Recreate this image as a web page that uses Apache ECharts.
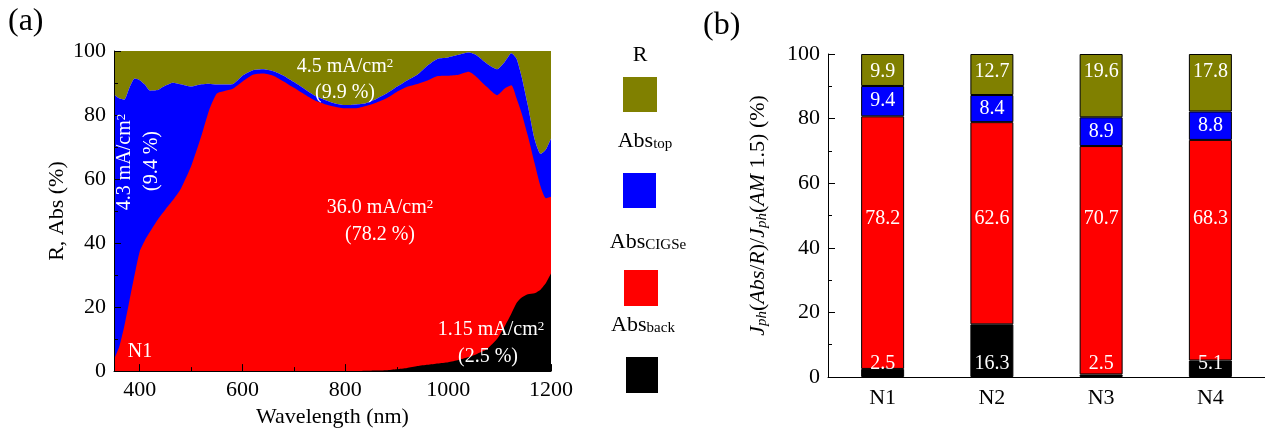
<!DOCTYPE html>
<html>
<head>
<meta charset="utf-8">
<script src="https://cdn.jsdelivr.net/npm/echarts@6/dist/echarts.min.js"></script>
<style>
  html, body { margin: 0; padding: 0; background: #fff; }
  #main { width: 1265px; height: 433px; }
</style>
</head>
<body>
<div id="main"></div>
<script>
// (a) spectra: upper edge of each layer (%)
var wavelength = [350, 360, 370, 380, 390, 400, 410, 420, 435, 450, 465, 480, 500, 520, 535, 550, 565, 580,
  600, 620, 640, 660, 680, 700, 720, 740, 760, 780, 800, 820, 840, 860, 880, 900, 920, 940, 960, 980,
  1000, 1020, 1040, 1055, 1075, 1095, 1110, 1123, 1133, 1143, 1155, 1168, 1180, 1190, 1200];
var backEdge = [0, 0, 0, 0, 0, 0, 0, 0, 0, 0, 0, 0, 0, 0, 0, 0, 0, 0,
  0, 0, 0, 0, 0, 0, 0, 0, 0, 0, 0, 0, 0.1, 0.2, 0.3, 0.6, 1.0, 1.6, 2.0, 2.4,
  2.8, 3.5, 4.4, 5.3, 6.8, 10, 14, 18, 21.3, 23, 24, 24.3, 25.5, 27.5, 30.5];
var cigseEdge = [3.6, 7.5, 14, 22, 30, 37.4, 40.8, 43.5, 47.3, 50.5, 53.5, 57, 64, 73.5, 81.5, 86.7, 87.5, 88.1,
  90.5, 92.6, 93, 92.3, 90.5, 88.5, 86.5, 84.6, 83.4, 82.6, 82.1, 82.1, 82.8, 83.8, 85.2, 87.2, 88.8, 89.7, 90.8, 92.2,
  92.3, 92.6, 93.5, 91.9, 88.8, 86.2, 88.3, 89.3, 85.2, 80.5, 73.5, 65, 57.5, 54, 54.5];
var topEdge = [86.4, 85.2, 84.8, 88.5, 91.4, 90.9, 89.5, 87.6, 87.8, 89.2, 90.1, 89.6, 88.9, 89.6, 89.8, 89.5, 89.5, 89.6,
  92.3, 94, 94.3, 93.7, 92.3, 90.3, 88.2, 86.1, 84.7, 83.6, 83.1, 83.3, 83.7, 85, 86.7, 88.8, 90.8, 92.6, 95.5, 97.6,
  98, 98.8, 99.5, 98.7, 96.1, 94.3, 96.6, 99.3, 97.6, 91.9, 83, 72.5, 67.8, 69.2, 72.7];

// (b) shares of Jph (%)
var samples = ['N1', 'N2', 'N3', 'N4'];
var backShare = [2.5, 16.3, 0.8, 5.1];
var backText = ['2.5', '16.3', '2.5', '5.1'];
var cigseShare = [78.2, 62.6, 70.7, 68.3];
var topShare = [9.4, 8.4, 8.9, 8.8];
var reflShare = [9.9, 12.7, 19.6, 17.8];

var xTicksMajor = [400, 600, 800, 1000, 1200];
var xTicksMinor = [500, 700, 900, 1100];

var FONT = 'Liberation Serif';
var OLIVE = '#808000', BLUE = '#0000ff', RED = '#ff0000', BLACK = '#000000';

function pairs(edge) {
  return wavelength.map(function (w, k) { return [w, edge[k]]; });
}

// layers are drawn back to front, each filled from its upper edge down to 0;
// R fills from the total absorption up to 100
function areaSeries(name, color, edge, origin, z) {
  return {
    name: name, type: 'line', xAxisIndex: 0, yAxisIndex: 0,
    data: pairs(edge), showSymbol: false, smooth: 0.2,
    lineStyle: { width: 0 }, areaStyle: { color: color, opacity: 1, origin: origin }, itemStyle: { color: color },
    z: z
  };
}

// label placed at a fixed level of the y scale inside a stacked segment
function levelPos(level, bottom, top) {
  var p = (top - level) / (top - bottom) * 100;
  return ['50%', p + '%'];
}

var cum0 = backShare.slice();
var cum1 = cum0.map(function (v, i) { return v + cigseShare[i]; });
var cum2 = cum1.map(function (v, i) { return v + topShare[i]; });

var labelBase = { show: true, color: '#fff', fontFamily: FONT, fontSize: 20 };

function barSeries(name, color, values, itemFn) {
  return {
    name: name, type: 'bar', stack: 'share', xAxisIndex: 2, yAxisIndex: 1,
    barWidth: 43,
    itemStyle: { color: color, borderColor: '#000', borderWidth: 1 },
    data: values.map(itemFn)
  };
}

var supRich = { sup: { fontSize: 13, verticalAlign: 'top', fill: '#fff', fontFamily: FONT } };
var subRich = { s: { fontSize: 15, verticalAlign: 'bottom', fill: '#000', fontFamily: FONT } };

function note(x, y, text, rot) {
  return { type: 'text', x: x, y: y, rotation: rot || 0, z: 10,
    style: { text: text, align: 'center', verticalAlign: 'middle', fill: '#fff', font: '20px "Liberation Serif"', rich: supRich } };
}

var chart = echarts.init(document.getElementById('main'));
chart.setOption({
  animation: false,
  backgroundColor: '#fff',
  textStyle: { fontFamily: FONT },
  grid: [
    { left: 114, top: 51, width: 437, height: 322 },
    { left: 828, top: 54, width: 440, height: 323 }
  ],
  xAxis: [
    {
      type: 'value', gridIndex: 0, min: 350, max: 1200, position: 'bottom',
      name: 'Wavelength (nm)', nameLocation: 'middle', nameGap: 34,
      nameTextStyle: { fontFamily: FONT, fontSize: 22, color: '#000' },
      axisLine: { lineStyle: { color: '#000', width: 1 } },
      axisTick: { inside: true, length: 7, customValues: xTicksMajor, lineStyle: { color: '#000' } },
      axisLabel: { customValues: xTicksMajor, formatter: function (v) { return String(v); },
        fontFamily: FONT, fontSize: 22, color: '#000', margin: 8 },
      splitLine: { show: false }, z: 5
    },
    {
      type: 'value', gridIndex: 0, min: 350, max: 1200, position: 'bottom',
      axisLine: { show: false },
      axisTick: { inside: true, length: 4, customValues: xTicksMinor, lineStyle: { color: '#000' } },
      axisLabel: { show: false }, splitLine: { show: false }, z: 5
    },
    {
      type: 'category', gridIndex: 1, data: samples,
      axisLine: { lineStyle: { color: '#000', width: 1 } },
      axisTick: { show: false },
      axisLabel: { fontFamily: FONT, fontSize: 22, color: '#000', margin: 10 }
    }
  ],
  yAxis: [
    {
      type: 'value', gridIndex: 0, min: 0, max: 100, interval: 20,
      name: 'R, Abs (%)', nameLocation: 'middle', nameGap: 46,
      nameTextStyle: { fontFamily: FONT, fontSize: 22, color: '#000' },
      axisLine: { show: true, lineStyle: { color: '#000', width: 1 } },
      axisTick: { show: true, inside: true, length: 7, lineStyle: { color: '#000' } },
      minorTick: { show: true, splitNumber: 2, length: 4, lineStyle: { color: '#000' } },
      axisLabel: { fontFamily: FONT, fontSize: 22, color: '#000', margin: 8 },
      splitLine: { show: false }, z: 5
    },
    {
      type: 'value', gridIndex: 1, min: 0, max: 100, interval: 20,
      name: '{i|J}{s|ph}{n|(}{i|Abs}{n|/}{i|R}{n|)/}{i|J}{s|ph}{n|(}{i|AM}{n| 1.5) (%)}',
      nameLocation: 'middle', nameGap: 58,
      nameTextStyle: {
        fontFamily: FONT, fontSize: 22, color: '#000',
        rich: {
          i: { fontFamily: FONT, fontSize: 22, fontStyle: 'italic', color: '#000' },
          n: { fontFamily: FONT, fontSize: 22, color: '#000' },
          s: { fontFamily: FONT, fontSize: 15, fontStyle: 'italic', color: '#000', verticalAlign: 'bottom', padding: [9, 0, 0, 0] }
        }
      },
      axisLine: { show: true, lineStyle: { color: '#000', width: 1 } },
      axisTick: { show: true, inside: true, length: 7, lineStyle: { color: '#000' } },
      minorTick: { show: true, splitNumber: 2, length: 4, lineStyle: { color: '#000' } },
      axisLabel: { fontFamily: FONT, fontSize: 22, color: '#000', margin: 8 },
      splitLine: { show: false }
    }
  ],
  series: [
    areaSeries('R', OLIVE, topEdge, 'end', 1),
    areaSeries('Abs_top', BLUE, topEdge, 'start', 2),
    areaSeries('Abs_CIGSe', RED, cigseEdge, 'start', 3),
    areaSeries('Abs_back', BLACK, backEdge, 'start', 4),
    barSeries('Abs_back', BLACK, backShare, function (v, i) {
      return { value: v, label: Object.assign({}, labelBase, { position: 'insideBottom', distance: 3, formatter: backText[i] }) };
    }),
    barSeries('Abs_CIGSe', RED, cigseShare, function (v, i) {
      return { value: v, label: Object.assign({}, labelBase, {
        position: levelPos(49, cum0[i], cum1[i]), align: 'center', verticalAlign: 'middle', formatter: v.toFixed(1) }) };
    }),
    barSeries('Abs_top', BLUE, topShare, function (v) {
      return { value: v, label: Object.assign({}, labelBase, { position: 'inside', formatter: v.toFixed(1) }) };
    }),
    barSeries('R', OLIVE, reflShare, function (v, i) {
      return { value: v, label: Object.assign({}, labelBase, {
        position: levelPos(94.5, cum2[i], 100), align: 'center', verticalAlign: 'middle', formatter: v.toFixed(1) }) };
    })
  ],
  graphic: [
    { type: 'text', left: 8, top: 6, style: { text: '(a)', font: '32px "Liberation Serif"', fill: '#000' } },
    { type: 'text', left: 703, top: 10, style: { text: '(b)', font: '32px "Liberation Serif"', fill: '#000' } },

    // annotations in (a)
    note(345, 67, '4.5 mA/cm{sup|2}'),
    note(345, 93, '(9.9 %)'),
    note(125, 162, '4.3 mA/cm{sup|2}', Math.PI / 2),
    note(152, 161, '(9.4 %)', Math.PI / 2),
    note(380, 208, '36.0 mA/cm{sup|2}'),
    note(380, 235, '(78.2 %)'),
    note(491, 330, '1.15 mA/cm{sup|2}'),
    note(488, 357, '(2.5 %)'),
    note(140, 352, 'N1'),

    // legend
    { type: 'text', x: 640, y: 55, style: { text: 'R', align: 'center', verticalAlign: 'middle', fill: '#000', font: '22px "Liberation Serif"' } },
    { type: 'rect', shape: { x: 623, y: 77, width: 34, height: 35 }, style: { fill: OLIVE } },
    { type: 'text', x: 645, y: 141, style: { text: 'Abs{s|top}', align: 'center', verticalAlign: 'middle', fill: '#000',
      font: '22px "Liberation Serif"', rich: subRich } },
    { type: 'rect', shape: { x: 623, y: 173, width: 33, height: 35 }, style: { fill: BLUE } },
    { type: 'text', x: 648, y: 242, style: { text: 'Abs{s|CIGSe}', align: 'center', verticalAlign: 'middle', fill: '#000',
      font: '22px "Liberation Serif"', rich: subRich } },
    { type: 'rect', shape: { x: 624, y: 270, width: 34, height: 36 }, style: { fill: RED } },
    { type: 'text', x: 643, y: 325, style: { text: 'Abs{s|back}', align: 'center', verticalAlign: 'middle', fill: '#000',
      font: '22px "Liberation Serif"', rich: subRich } },
    { type: 'rect', shape: { x: 626, y: 357, width: 32, height: 36 }, style: { fill: BLACK } }
  ]
});
</script>
</body>
</html>
